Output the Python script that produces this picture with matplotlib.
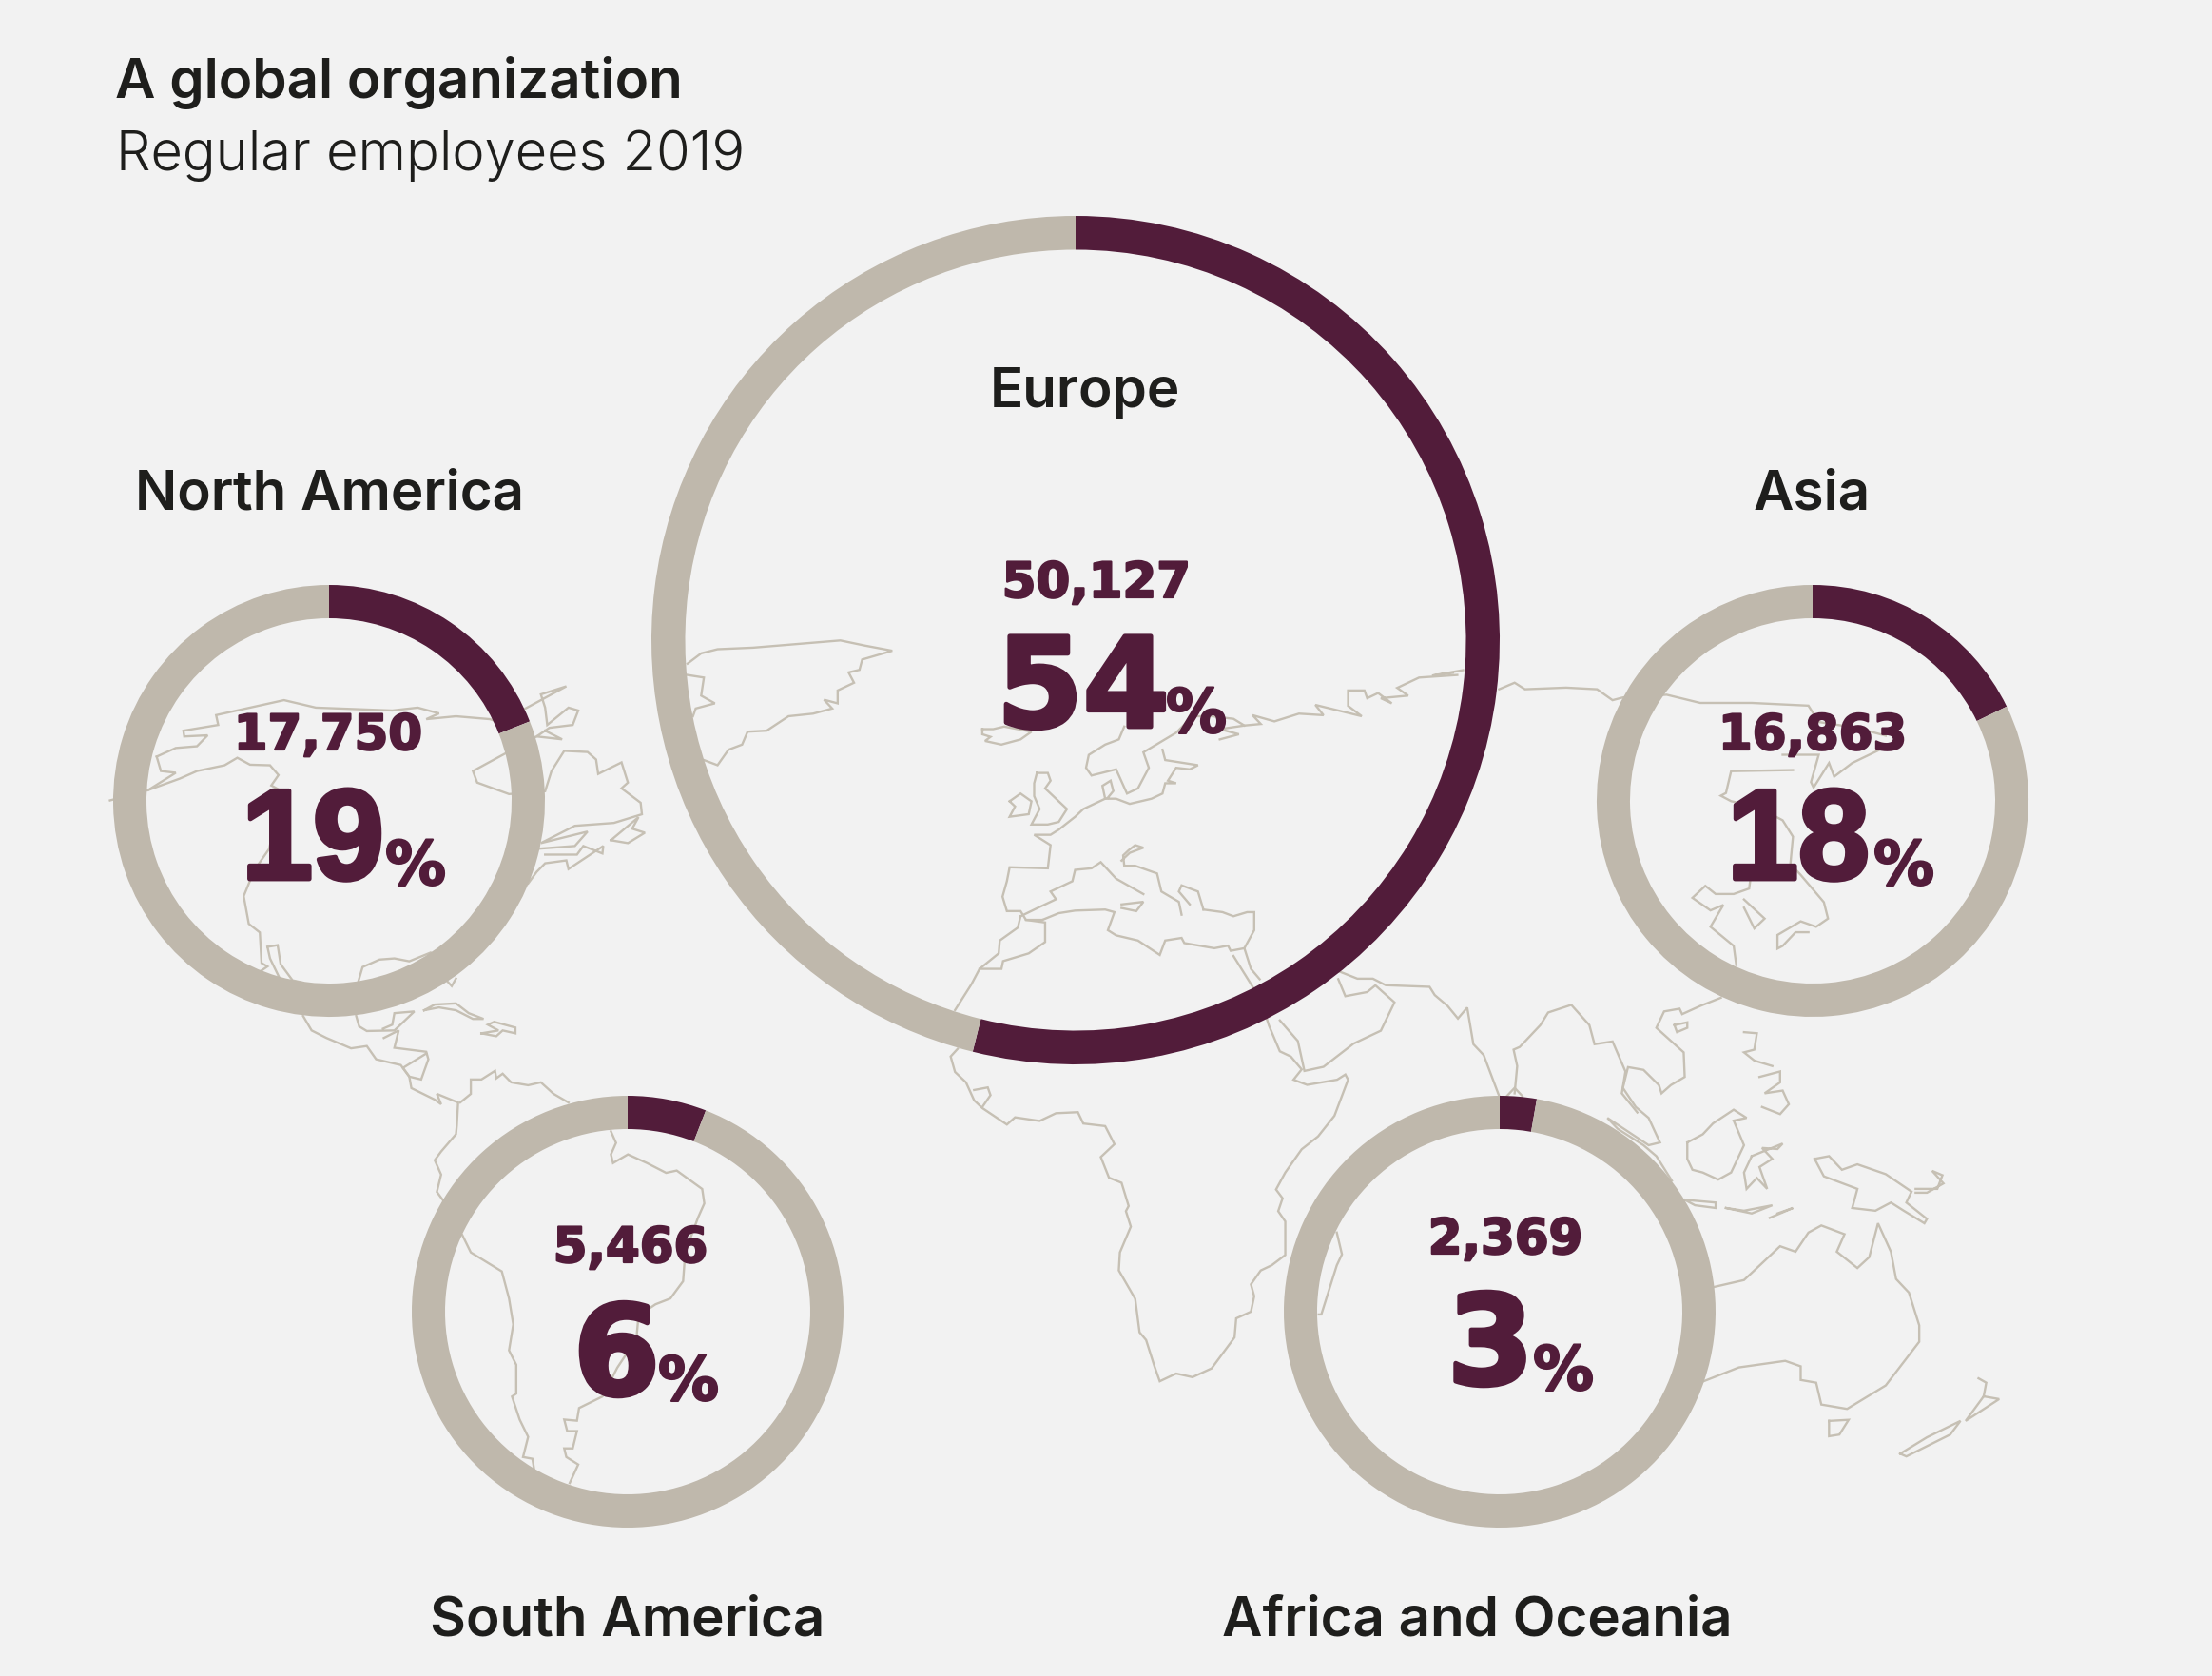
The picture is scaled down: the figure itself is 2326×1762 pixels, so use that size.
import matplotlib
matplotlib.use("Agg")
import matplotlib.pyplot as plt
import matplotlib.patheffects as pe

W, H = 2326, 1762
BG, RING, DARK, INK, COAST = "#F2F2F2", "#BFB8AC", "#521C3A", "#1E1E1C", "#C6C0B4"

regions = ["Europe", "North America", "Asia", "South America", "Africa and Oceania"]
employees = ["50,127", "17,750", "16,863", "5,466", "2,369"]
shares = [54, 19, 18, 6, 3]
# share of each ring drawn dark, as read from the arcs
arc_shares = [53.9, 19.0, 17.8, 5.9, 2.75]

# ring centre x, y, radius
ring_x = [1131, 346, 1906, 660, 1577]
ring_y = [673, 842, 842, 1379, 1379]
ring_r = [446, 227, 227, 227, 227]
ring_w = [35.5, 35, 35, 35, 35]

# (label cx, baseline), (count cx, baseline), (big left, baseline), (pct left, baseline)
label_xy = [(1141, 428), (346, 535), (1905, 535), (660, 1720), (1553, 1720)]
count_xy = [(1153, 628), (345, 788), (1906, 788), (663, 1327), (1583, 1318)]
big_xy = [(1048, 764), (254, 924), (1816, 924), (603, 1466), (1522, 1455)]
pct_xy = [(1226, 770), (405, 930), (1970, 930), (692, 1472), (1612, 1461)]
big_font = ["DejaVu Sans", "Liberation Sans", "Liberation Sans", "DejaVu Sans", "DejaVu Sans"]
big_size = [94, 97, 97, 94, 94]

# Coastline traces, one list per crop of the map
coast_a = [
    [(35,316),(125,298),(200,278),(240,265),(305,255),(335,242),(365,254),(412,255),(432,272),(415,290),(440,300),(410,400),(375,437),(350,482),(362,530),(388,545),(392,598),(406,604),(390,612),(430,640)],
    [(145,240),(190,225),(240,222),(265,203),(210,205),(208,195),(290,185),(285,168),(445,142),(520,155),(700,160),(760,155),(810,165),(780,175),(850,170),(930,175),(950,180)],
    [(145,240),(155,265),(190,268),(125,298)],
    [(1005,160),(1110,118),(1050,132),(1060,155),(1065,185),(1115,155),(1138,160),(1125,185),(1070,190),(1040,205),(1100,210),(1060,195)],
    [(1040,205),(890,265),(900,285),(975,305),(1060,300),(1075,265),(1105,230),(1160,232),(1180,245),(1185,270),(1240,250),(1255,285),(1240,295),(1285,320),(1288,340),(1222,355),(1130,360),(1050,390),(1160,370),(1130,395),(1040,400)],
    [(1215,385),(1280,345),(1265,365),(1295,372),(1255,390),(1215,385)],
    [(1020,460),(1040,440),(1060,425),(1110,420),(1115,435),(1197,395),(1195,408),(1150,395),(1135,410),(1060,410)],
    [(406,570),(430,567),(437,600),(465,628),(490,632)],
    [(406,570),(412,590),(435,625)],
    [(620,630),(630,605),(670,592),(705,590),(740,595),(790,580)],
    [(830,630),(840,638),(850,625)],
    [(490,690),(510,715),(545,728),(603,746),(640,742),(662,765),(720,775),(740,795),(745,815),(800,835),(815,843),(805,825),(855,840),(852,880),(850,895),(815,925),(800,940),(815,965),(805,995),(820,1010)],
    [(615,690),(622,708),(640,716),(705,715),(752,682),(705,685),(700,705),(678,712)],
    [(680,728),(715,715),(705,745),(780,752),(785,765),(768,800),(740,795),(725,780),(780,755)],
    [(860,840),(885,825),(885,800),(910,800),(942,785),(945,798),(960,790),(980,805),(1020,810),(1050,805),(1080,825),(1115,840)],
    [(775,680),(800,670),(850,668),(880,685),(915,695),(890,695),(850,680),(810,675),(775,680)],
    [(910,720),(945,725),(960,715),(990,720),(990,710),(940,700),(925,705),(950,715),(910,720)],
    [(1215,890),(1227,910),(1215,930),(1220,945),(1255,930),(1300,945),(1345,962),(1370,958),(1430,990),(1435,1015),(1420,1040),(1390,1100),(1385,1150),(1355,1180),(1320,1190),(1280,1210),(1275,1250),(1230,1300),(1195,1350),(1140,1370),(1135,1392),(1105,1390),(1112,1410),(1135,1410),(1125,1440),(1105,1440),(1110,1455),(1138,1468),(1118,1500)],
    [(865,1070),(885,1100),(958,1133),(975,1180),(985,1225),(975,1270),(992,1295),(992,1345),(982,1350),(1000,1390),(1020,1420),(1008,1455),(1030,1458),(1035,1480)],
]
coast_b = [
    [(40,88),(65,68),(95,60),(160,57),(320,43),(365,53),(415,63),(360,80),(355,100),(335,105),(345,125),(315,140),(315,165),(290,158),(305,175),(270,185),(225,190),(185,218),(150,220),(140,245),(115,255),(95,285),(70,275)],
    [(40,110),(70,115),(65,150),(90,165),(55,175),(50,190)],
    [(580,215),(600,215),(620,210),(670,220),(650,235),(615,245),(585,238),(595,230),(580,225),(580,215)],
    [(680,300),(700,300),(705,315),(695,330),(735,370),(720,395),(700,400),(670,400),(685,370),(675,345),(675,320),(680,300)],
    [(630,355),(650,340),(670,355),(665,380),(630,385),(640,365),(630,355)],
    [(840,210),(830,235),(805,245),(775,265),(770,290),(780,305),(825,293),(845,340),(865,330),(885,290),(875,260),(935,222),(965,190),(1000,190),(1040,195),(1060,208)],
    [(910,255),(915,275),(975,285),(960,293),(935,290),(920,315),(935,320),(915,320),(910,340),(890,350),(850,360),(825,350),(805,350),(800,325),(815,315),(820,335),(810,348)],
    [(805,350),(765,370),(750,385),(720,410),(705,420),(675,420),(705,440),(700,485),(630,483),(625,510),(617,540),(625,568),(650,568),(660,585),(690,585)],
    [(650,578),(685,560),(715,545),(705,530),(745,510),(750,488),(780,485),(797,473),(825,505),(875,535)],
    [(835,470),(850,455),(875,445),(860,440),(848,450),(838,460),(840,480),(860,480),(900,495),(908,530),(940,550),(945,575)],
    [(835,555),(875,550),(862,568),(835,562)],
    [(985,565),(975,530),(945,518),(940,530),(960,555)],
    [(985,565),(1020,570),(1040,578),(1065,570),(1078,570),(1078,605),(1060,640)],
    [(690,585),(720,572),(750,567),(805,565),(822,570),(810,605),(825,615),(865,625),(905,653),(915,625),(945,620),(950,630),(1005,640),(1030,635),(1035,645),(1060,640),(1072,680),(1088,700)],
    [(1040,655),(1090,740),(1105,790),(1125,840),(1145,850),(1165,875),(1150,895),(1175,905),(1230,895),(1245,885),(1250,895),(1225,965),(1195,1005),(1165,1030),(1135,1075),(1118,1108),(1130,1125),(1122,1150),(1135,1170),(1135,1235),(1110,1255),(1090,1265),(1072,1292),(1078,1315),(1072,1345),(1045,1358),(1042,1395),(1000,1455),(965,1472),(935,1465),(905,1480),(895,1450),(880,1400),(868,1385),(860,1320),(830,1265),(832,1230),(852,1180),(843,1150),(848,1140),(835,1095),(812,1085),(797,1045),(822,1020),(805,985),(765,980),(755,958),(715,960),(685,975),(640,968),(625,982),(580,950),(565,935),(550,900),(530,880),(522,850),(535,835)],
    [(530,760),(560,710),(575,680),(610,650),(612,625),(645,600),(650,578)],
    [(575,680),(615,680),(618,665),(665,650),(695,628),(695,590),(660,585)],
    [(565,915),(590,910),(595,925),(580,948)],
    [(1125,780),(1158,820),(1170,878),(1205,870),(1260,825),(1310,800),(1335,745),(1300,712),(1285,725),(1245,733),(1232,700)],
    [(1015,235),(1050,225),(1015,215),(1060,208),(1090,205),(1075,188),(1115,200),(1160,185),(1205,188),(1190,168),(1275,190),(1250,170),(1250,140),(1280,140),(1285,155),(1305,145),(1330,165),(1310,155),(1360,150),(1340,135),(1380,115),(1450,110)],
]
coast_c = [
    [(440,95),(380,105),(420,100)],
    [(510,130),(540,118),(560,130),(640,127),(700,130),(730,150),(750,145),(835,140),(900,155),(1000,155),(1110,160),(1130,190),(1200,200),(1260,215)],
    [(1080,278),(960,280),(950,320),(940,325),(960,335),(1010,345),(1060,370),(1080,400),(1075,450),(1095,470),(1140,520),(1148,550),(1125,565),(1095,555),(1050,580),(1050,605),(1060,600),(1085,575),(1110,575)],
    [(1060,250),(1130,250),(1115,300),(1120,310),(1150,265),(1160,290),(1195,265),(1250,240)],
    [(1000,460),(995,495),(965,505),(930,505),(910,490),(885,512),(920,535),(945,525),(920,565),(965,600),(970,635)],
    [(985,515),(1025,550),(1005,568),(985,530)],
    [(940,695),(900,710),(865,725),(860,715),(830,720),(815,750),(868,795),(870,840),(843,855),(825,870),(820,855),(790,827),(760,822),(750,860),(775,895),(800,915),(822,960),(800,965),(720,915),(740,935),(790,965),(815,985),(845,1030)],
    [(850,745),(875,740),(875,750),(855,758),(850,745)],
    [(510,875),(480,800),(460,780),(448,713),(430,733),(410,710),(385,690),(375,675),(290,672),(265,660),(235,660),(195,645)],
    [(540,870),(545,820),(538,790),(550,785),(590,745),(605,722),(650,708),(685,745),(695,780),(730,775),(755,830),(748,870),(778,905)],
    [(525,875),(540,860),(555,875)],
    [(985,758),(1010,760),(1005,790),(985,795),(1005,810),(1040,820)],
    [(1015,840),(1055,830),(1055,850),(1025,870),(1060,865),(1072,890),(1055,908),(1020,895)],
    [(875,960),(905,945),(925,925),(965,900),(990,915),(965,920),(985,965),(960,1015),(935,1028),(905,1015),(885,1010),(875,990),(875,960)],
    [(1000,985),(1060,962),(1050,972),(1020,970),(1040,990),(1015,1005),(1030,1045),(1010,1025),(990,1045),(985,1015),(1000,985)],
    [(870,1065),(930,1070),(930,1080),(890,1075),(870,1065)],
    [(950,1080),(985,1085),(1040,1075),(1000,1090),(950,1080)],
    [(1035,1098),(1080,1080),(1050,1090)],
    [(1122,990),(1150,985),(1175,1010),(1205,1000),(1260,1018),(1310,1050),(1300,1070),(1340,1100),(1335,1108),(1295,1085),(1270,1070),(1240,1085),(1195,1080),(1205,1045),(1140,1022),(1122,990)],
    [(1318,1045),(1360,1045),(1370,1020),(1350,1012),(1372,1035),(1340,1052),(1318,1052)],
    [(925,1225),(985,1212),(1010,1190),(1055,1150),(1085,1160),(1110,1125),(1135,1112),(1180,1128),(1165,1160),(1205,1190),(1228,1170),(1245,1108),(1270,1160),(1280,1210),(1305,1235),(1325,1295),(1325,1325),(1260,1405),(1185,1448),(1135,1440),(1125,1400),(1095,1395),(1095,1370),(1065,1360),(975,1372),(905,1398)],
    [(1150,1470),(1188,1468),(1170,1495),(1150,1498),(1150,1470)],
    [(1440,1392),(1455,1400),(1450,1425),(1480,1430),(1415,1470),(1450,1425)],
    [(1288,1530),(1340,1500),(1405,1470),(1385,1495),(1300,1535),(1288,1530)],
    [(195,1125),(205,1165),(195,1185),(165,1275),(160,1275)],
]
# crop origin x, y and scale x, y of each trace list
coast_sets = [
    (coast_a, 100, 650, 2.24, 1.65),
    (coast_b, 700, 650, 1.742, 1.845),
    (coast_c, 1300, 650, 1.845, 1.742),
]

fig = plt.figure(figsize=(W / 100, H / 100), dpi=100, facecolor=BG)
ax = fig.add_axes([0, 0, 1, 1], facecolor=BG)


def flip(y):
    return H - y


def heavy(width):
    return [pe.withStroke(linewidth=width, foreground=DARK)]


for traces, ox, oy, sx, sy in coast_sets:
    for tr in traces:
        xs = [ox + p[0] / sx for p in tr]
        ys = [flip(oy + p[1] / sy) for p in tr]
        ax.plot(xs, ys, color=COAST, lw=1.7, solid_joinstyle="miter", zorder=1)

for i, s in enumerate(arc_shares):
    ax.pie([s, 100 - s], colors=[DARK, RING], startangle=90, counterclock=False,
           center=(ring_x[i], flip(ring_y[i])), radius=ring_r[i],
           wedgeprops=dict(width=ring_w[i], linewidth=0, zorder=2))

ax.set_xlim(0, W)
ax.set_ylim(0, H)
ax.set_aspect("equal")
ax.axis("off")

HEAD = "Inter"
ax.text(121, flip(103), "A global organization", fontfamily=HEAD, fontweight=600,
        fontsize=42, color=INK, va="baseline", ha="left", zorder=3)
ax.text(122, flip(179), "Regular employees 2019", fontfamily=HEAD, fontweight=300,
        fontsize=41.6, color=INK, va="baseline", ha="left", zorder=3)

for i, name in enumerate(regions):
    x, y = label_xy[i]
    ax.text(x, flip(y), name, fontfamily=HEAD, fontweight=600, fontsize=42, color=INK,
            ha="center", va="baseline", zorder=3)
    x, y = count_xy[i]
    ax.text(x, flip(y), employees[i], fontfamily="DejaVu Sans", fontweight="bold",
            fontsize=37, color=DARK, ha="center", va="baseline", zorder=3,
            path_effects=heavy(1.6))
    x, y = big_xy[i]
    ax.text(x, flip(y), str(shares[i]), fontfamily=big_font[i], fontweight="bold",
            fontsize=big_size[i], color=DARK, ha="left", va="baseline", zorder=3,
            path_effects=heavy(3.5))
    x, y = pct_xy[i]
    ax.text(x, flip(y), "%", fontfamily="DejaVu Sans", fontweight="bold",
            fontsize=46, color=DARK, ha="left", va="baseline", zorder=3,
            path_effects=heavy(1.6))

fig.savefig("out.png", dpi=100, facecolor=BG)
